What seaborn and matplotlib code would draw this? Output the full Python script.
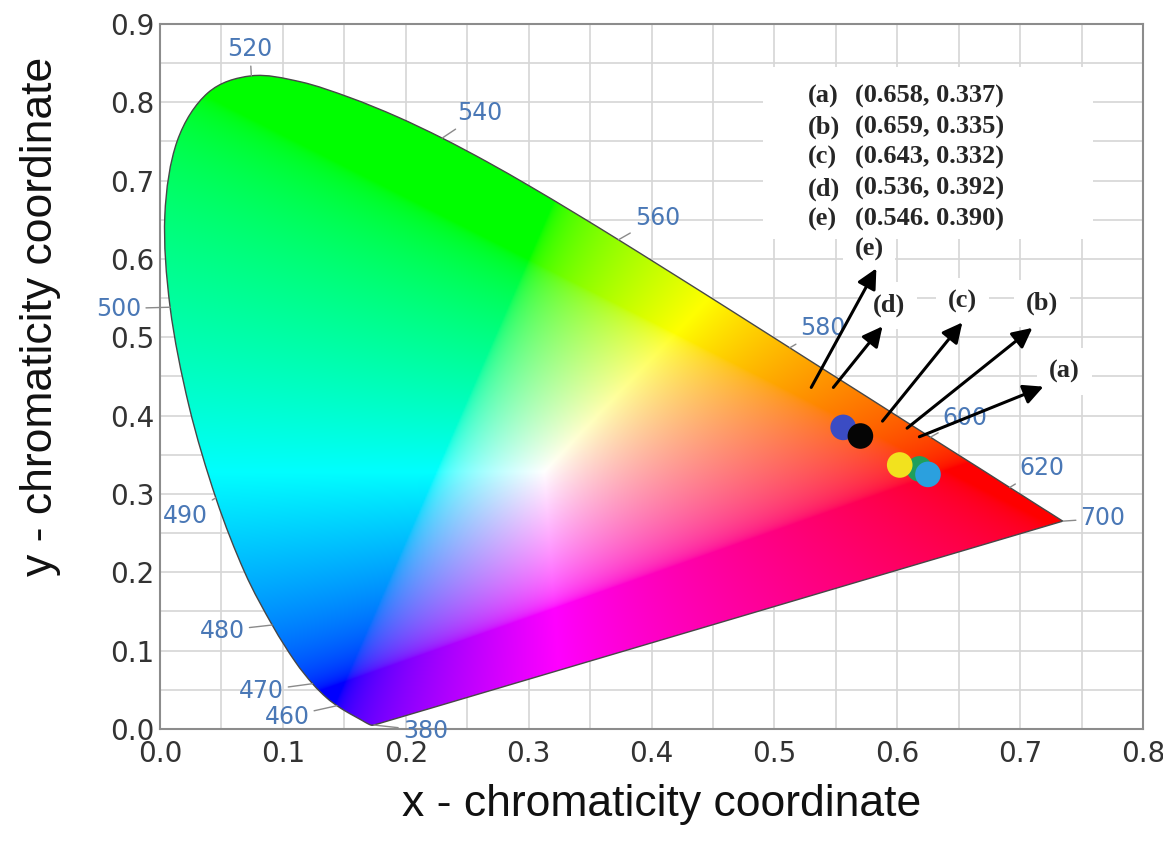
import numpy as np
import pandas as pd
import matplotlib
matplotlib.use("Agg")
import matplotlib.pyplot as plt
from matplotlib.patches import PathPatch, Rectangle
from matplotlib.path import Path
from matplotlib.ticker import MultipleLocator
import seaborn as sns

# CIE 1931 2-degree spectral locus (5 nm steps)
wavelengths = [380, 385, 390, 395, 400, 405, 410, 415, 420, 425, 430, 435, 440, 445,
               450, 455, 460, 465, 470, 475, 480, 485, 490, 495, 500, 505, 510, 515,
               520, 525, 530, 535, 540, 545, 550, 555, 560, 565, 570, 575, 580, 585,
               590, 595, 600, 605, 610, 615, 620, 625, 630, 635, 640, 645, 650, 655,
               660, 665, 670, 675, 680, 685, 690, 695, 700]
locus_x = [0.1741, 0.1740, 0.1738, 0.1736, 0.1733, 0.1730, 0.1726, 0.1721, 0.1714, 0.1703,
           0.1689, 0.1669, 0.1644, 0.1611, 0.1566, 0.1510, 0.1440, 0.1355, 0.1241, 0.1096,
           0.0913, 0.0687, 0.0454, 0.0235, 0.0082, 0.0039, 0.0139, 0.0389, 0.0743, 0.1142,
           0.1547, 0.1929, 0.2296, 0.2658, 0.3016, 0.3373, 0.3731, 0.4087, 0.4441, 0.4788,
           0.5125, 0.5448, 0.5752, 0.6029, 0.6270, 0.6482, 0.6658, 0.6801, 0.6915, 0.7006,
           0.7079, 0.7140, 0.7190, 0.7230, 0.7260, 0.7283, 0.7300, 0.7311, 0.7320, 0.7327,
           0.7334, 0.7340, 0.7344, 0.7346, 0.7347]
locus_y = [0.0050, 0.0050, 0.0049, 0.0049, 0.0048, 0.0048, 0.0048, 0.0048, 0.0051, 0.0058,
           0.0069, 0.0086, 0.0109, 0.0138, 0.0177, 0.0227, 0.0297, 0.0399, 0.0578, 0.0868,
           0.1327, 0.2007, 0.2950, 0.4127, 0.5384, 0.6548, 0.7502, 0.8120, 0.8338, 0.8262,
           0.8059, 0.7816, 0.7543, 0.7243, 0.6923, 0.6589, 0.6245, 0.5896, 0.5547, 0.5202,
           0.4866, 0.4544, 0.4242, 0.3965, 0.3725, 0.3514, 0.3340, 0.3197, 0.3083, 0.2993,
           0.2920, 0.2859, 0.2809, 0.2770, 0.2740, 0.2717, 0.2700, 0.2689, 0.2680, 0.2673,
           0.2666, 0.2660, 0.2656, 0.2654, 0.2653]

# wavelengths labelled on the locus, with label offsets in points
marked_nm = [380, 460, 470, 480, 490, 500, 520, 540, 560, 580, 600, 620, 700]
marked_offsets = [(37, -4), (-36, -8), (-37, -5), (-36, -4), (-22, -13), (-37, -1),
                  (-1, 19), (27, 18), (28, 16), (24, 14), (25, 14), (23, 14), (29, 2)]

# plotted samples (positions)
sample_names = ["blue", "black", "green", "yellow", "cyan"]
sample_x = [0.556, 0.570, 0.618, 0.602, 0.625]
sample_y = [0.385, 0.374, 0.332, 0.337, 0.325]
sample_colors = ["#3b4cc4", "#050505", "#1f9f5c", "#f2e21e", "#2ba0de"]

# legend text box
legend_tags = ["(a)", "(b)", "(c)", "(d)", "(e)"]
legend_coords = ["(0.658, 0.337)", "(0.659, 0.335)", "(0.643, 0.332)",
                 "(0.536, 0.392)", "(0.546. 0.390)"]

# arrows: tail, head, label position
arrow_tags = ["(a)", "(b)", "(c)", "(d)", "(e)"]
arrow_tail = [(0.618, 0.373), (0.608, 0.384), (0.588, 0.393), (0.548, 0.436), (0.530, 0.436)]
arrow_head = [(0.719, 0.437), (0.710, 0.512), (0.653, 0.519), (0.588, 0.514), (0.583, 0.588)]
arrow_label = [(0.736, 0.456), (0.718, 0.543), (0.653, 0.546), (0.593, 0.541), (0.577, 0.612)]

sns.set_theme(style="whitegrid")
plt.rcParams["font.family"] = ["DejaVu Sans"]

fig = plt.figure(figsize=(11.63, 8.44), dpi=100)
ax = fig.add_axes([0.1376, 0.1363, 0.8452, 0.8353])
ax.set_facecolor("white")

# background colour fill of the chromaticity diagram
gx = np.linspace(0, 0.8, 641)
gy = np.linspace(0.0005, 0.9, 721)
GX, GY = np.meshgrid(gx, gy)
XX = GX / GY
ZZ = (1 - GX - GY) / GY
M = np.array([[3.2406, -1.5372, -0.4986],
              [-0.9689, 1.8758, 0.0415],
              [0.0557, -0.2040, 1.0570]])
rgb = np.einsum("ij,jhw->hwi", M, np.stack([XX, np.ones_like(XX), ZZ]))
rgb = np.clip(rgb, 0, None)
rgb = rgb / np.maximum(rgb.max(axis=2, keepdims=True), 1e-9)
rgb = np.where(rgb <= 0.0031308, 12.92 * rgb, 1.055 * rgb ** (1 / 2.4) - 0.055)
rgb = np.clip(rgb, 0, 1)

# smooth outline of the locus (bezier through the table points), straight purple line
pts = np.column_stack([locus_x, locus_y])
verts = [pts[0]]
codes = [Path.MOVETO]
n = len(pts)
for i in range(n - 1):
    p0 = pts[max(i - 1, 0)]
    p1 = pts[i]
    p2 = pts[i + 1]
    p3 = pts[min(i + 2, n - 1)]
    verts += [p1 + (p2 - p0) / 6, p2 - (p3 - p1) / 6, p2]
    codes += [Path.CURVE4] * 3
verts += [pts[0], pts[0]]
codes += [Path.LINETO, Path.CLOSEPOLY]
locus = PathPatch(Path(verts, codes), facecolor="none", edgecolor="#474747",
                  lw=1.0, zorder=2)
ax.add_patch(locus)
img = ax.imshow(rgb, extent=[0, 0.8, 0.0005, 0.9], origin="lower",
                aspect="auto", interpolation="bilinear", zorder=1)
img.set_clip_path(locus)

# wavelength marks
for nm, off in zip(marked_nm, marked_offsets):
    i = wavelengths.index(nm)
    ax.annotate(str(nm), xy=(locus_x[i], locus_y[i]), xytext=off,
                textcoords="offset points", ha="center", va="center",
                fontsize=17, color="#4a78b6",
                arrowprops=dict(arrowstyle="-", color="#8a8a8a", lw=1.0,
                                shrinkA=1, shrinkB=0), zorder=3)

# samples
df = pd.DataFrame({"x": sample_x, "y": sample_y, "sample": sample_names})
sns.scatterplot(data=df, x="x", y="y", hue="sample",
                palette=dict(zip(sample_names, sample_colors)),
                s=340, edgecolor="none", legend=False, ax=ax, zorder=4)

# arrows and their labels
for tag, tail, head, lab in zip(arrow_tags, arrow_tail, arrow_head, arrow_label):
    ax.text(lab[0], lab[1], tag, ha="center", va="center", fontsize=19,
            fontweight="bold", family="Liberation Serif", zorder=7,
            bbox=dict(fc="white", ec="none", boxstyle="square,pad=0.45"))
    ax.annotate("", xy=head, xytext=tail,
                arrowprops=dict(arrowstyle="-|>", color="black", lw=2.2,
                                mutation_scale=30, shrinkA=0, shrinkB=0), zorder=8)

# coordinate box
ax.add_patch(Rectangle((0.491, 0.625), 0.268, 0.220, facecolor="white",
                       edgecolor="none", zorder=6))
for k, (tag, coord) in enumerate(zip(legend_tags, legend_coords)):
    yy = 0.808 - k * 0.0395
    ax.text(0.527, yy, tag, ha="left", va="center", fontsize=19,
            fontweight="bold", family="Liberation Serif", zorder=7)
    ax.text(0.566, yy, coord, ha="left", va="center", fontsize=19,
            fontweight="bold", family="Liberation Serif", zorder=7)

ax.set_xlim(0, 0.8)
ax.set_ylim(0, 0.9)
ax.xaxis.set_major_locator(MultipleLocator(0.1))
ax.yaxis.set_major_locator(MultipleLocator(0.1))
ax.xaxis.set_minor_locator(MultipleLocator(0.05))
ax.yaxis.set_minor_locator(MultipleLocator(0.05))
ax.grid(which="both", color="#d6d6d6", lw=1.2)
ax.set_axisbelow(True)
ax.tick_params(axis="both", which="both", length=0, labelsize=20, labelcolor="#333333")
ax.tick_params(axis="x", pad=8)
ax.tick_params(axis="y", pad=4)
ax.set_xticklabels([f"{v:.1f}" for v in ax.get_xticks()])
ax.set_yticklabels([f"{v:.1f}" for v in ax.get_yticks()])
for sp in ax.spines.values():
    sp.set_visible(True)
    sp.set_color("#8c8c8c")
    sp.set_linewidth(1.5)

ax.set_xlabel("x - chromaticity coordinate", fontsize=32, family="Liberation Sans",
              color="#111111", va="center")
ax.xaxis.set_label_coords(0.51, -0.107)
ax.set_ylabel("y - chromaticity coordinate", fontsize=32, family="Liberation Sans",
              color="#111111", va="center")
ax.yaxis.set_label_coords(-0.122, 0.585)

fig.savefig("out.png", dpi=100)
